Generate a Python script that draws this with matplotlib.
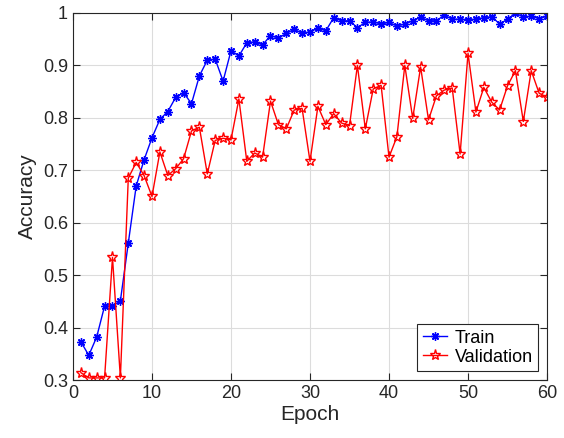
import matplotlib
matplotlib.use('Agg')
import matplotlib.pyplot as plt
import numpy as np

plt.rcParams['font.family'] = ['Liberation Sans', 'DejaVu Sans']

epochs = np.arange(1, 61)
# train accuracy
train = [0.373, 0.347, 0.382, 0.441, 0.441, 0.451, 0.561, 0.670, 0.720, 0.762,
         0.797, 0.812, 0.839, 0.848, 0.827, 0.880, 0.910, 0.912, 0.870, 0.928,
         0.918, 0.943, 0.945, 0.939, 0.957, 0.952, 0.961, 0.969, 0.961, 0.964,
         0.971, 0.966, 0.991, 0.985, 0.985, 0.972, 0.982, 0.983, 0.979, 0.982,
         0.975, 0.979, 0.985, 0.992, 0.985, 0.985, 0.996, 0.988, 0.988, 0.987,
         0.988, 0.991, 0.993, 0.979, 0.988, 1.000, 0.992, 0.994, 0.989, 0.994]
# validation accuracy
valid = [0.314, 0.304, 0.304, 0.304, 0.534, 0.304, 0.685, 0.715, 0.690, 0.650,
         0.735, 0.690, 0.703, 0.722, 0.775, 0.782, 0.693, 0.757, 0.761, 0.758,
         0.836, 0.717, 0.733, 0.725, 0.832, 0.787, 0.779, 0.815, 0.818, 0.717,
         0.822, 0.787, 0.808, 0.790, 0.785, 0.900, 0.779, 0.855, 0.862, 0.725,
         0.764, 0.900, 0.799, 0.897, 0.796, 0.842, 0.853, 0.857, 0.731, 0.923,
         0.811, 0.858, 0.830, 0.815, 0.861, 0.890, 0.793, 0.890, 0.847, 0.839]

xticks = [0, 10, 20, 30, 40, 50, 60]
yticks = [0.3, 0.4, 0.5, 0.6, 0.7, 0.8, 0.9, 1.0]
ylabels = ['0.3', '0.4', '0.5', '0.6', '0.7', '0.8', '0.9', '1']

dark = '#262626'

fig = plt.figure(figsize=(5.64, 4.38), dpi=100)
ax = fig.add_axes([0.1294, 0.1324, 0.8405, 0.838])

ax.plot(epochs, train, color='blue', lw=1, marker=(8, 2, 0), ms=6, mew=1,
        label='Train')
ax.plot(epochs, valid, color='red', lw=1, marker='*', ms=8, mew=1,
        mfc='none', label='Validation')

ax.set_xlim(0, 60)
ax.set_ylim(0.3, 1.0)
ax.set_xticks(xticks)
ax.set_yticks(yticks)
ax.set_yticklabels(ylabels)
ax.grid(True, color='#dcdcdc', lw=0.8)
ax.set_axisbelow(True)
ax.tick_params(direction='in', top=True, right=True, labelsize=13,
               colors=dark, length=5, width=0.8)
for s in ax.spines.values():
    s.set_color(dark)
    s.set_linewidth(0.8)

ax.set_xlabel('Epoch', fontsize=15, color=dark, labelpad=2)
ax.set_ylabel('Accuracy', fontsize=15, color=dark, labelpad=4)

leg = ax.legend(loc='lower right', fontsize=13, fancybox=False,
                edgecolor=dark, framealpha=1, borderpad=0.3,
                handlelength=1.35, handletextpad=0.4, labelspacing=0.1,
                borderaxespad=0.5)
leg.get_frame().set_linewidth(0.8)

fig.savefig('out.png', dpi=100)
